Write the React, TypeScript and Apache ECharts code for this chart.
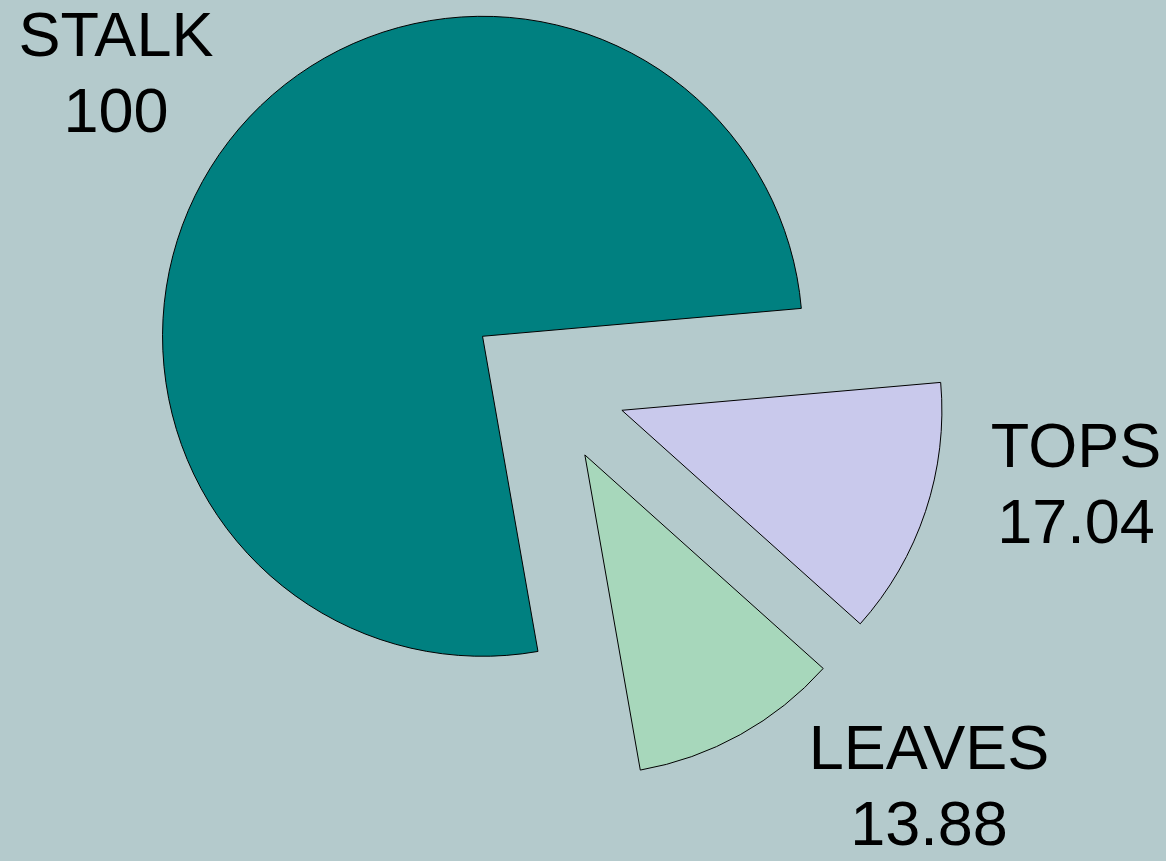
import React, { useEffect, useRef } from 'react';
import * as echarts from 'echarts';

// Data
const categories = ['TOPS', 'LEAVES', 'STALK'];
const values = [17.04, 13.88, 100];

// Styles / layout (kept separate from data)
const sliceColors = ['#C9C9EC', '#A7D7BB', '#008080'];
const labelPositions: number[][] = [
  [1076, 483],
  [929, 785],
  [116, 72],
];
const LINE_GAP = 76;

export default function App() {
  const ref = useRef<HTMLDivElement>(null);

  useEffect(() => {
    if (!ref.current) return;
    const chart = echarts.init(ref.current, null, { renderer: 'svg' });
    const textStyle = {
      align: 'center',
      verticalAlign: 'middle',
      textAlign: 'center',
      textVerticalAlign: 'middle',
      fontSize: 63,
      fontFamily: '"Liberation Sans", Arial, sans-serif',
      fill: '#000000',
    };
    const graphics: any[] = [];
    categories.forEach((name, i) => {
      const [x, y] = labelPositions[i];
      graphics.push({
        type: 'text',
        x,
        y: y - LINE_GAP / 2,
        silent: true,
        style: { ...textStyle, text: name },
      });
      graphics.push({
        type: 'text',
        x,
        y: y + LINE_GAP / 2,
        silent: true,
        style: { ...textStyle, text: String(values[i]) },
      });
    });

    chart.setOption({
      animation: false,
      backgroundColor: '#B4CACC',
      graphic: graphics,
      series: [
        {
          type: 'pie',
          center: [546, 385],
          radius: 320,
          startAngle: 5,
          clockwise: true,
          selectedMode: 'multiple',
          selectedOffset: 80,
          avoidLabelOverlap: false,
          itemStyle: { borderColor: '#000000', borderWidth: 1 },
          emphasis: { disabled: true },
          label: { show: false },
          labelLine: { show: false },
          data: categories.map((name, i) => ({
            name,
            value: values[i],
            selected: true,
            itemStyle: { color: sliceColors[i] },
            select: {
              itemStyle: { color: sliceColors[i], borderColor: '#000000', borderWidth: 1 },
            },
          })),
        },
      ],
    });
    return () => chart.dispose();
  }, []);

  return (
    <div
      ref={ref}
      style={{ position: 'fixed', left: 0, top: 0, width: 1166, height: 861 }}
    />
  );
}
